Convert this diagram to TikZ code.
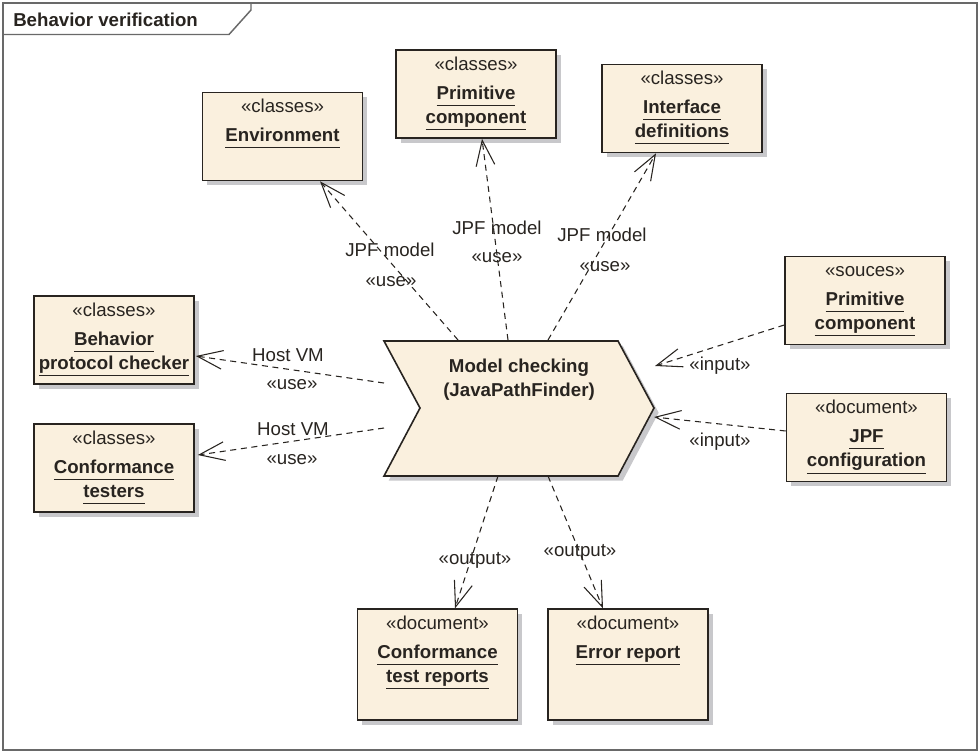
\documentclass[tikz,border=0pt]{standalone}
\usepackage{fontspec}
\setmainfont{Liberation Sans}
\usetikzlibrary{arrows.meta}
\usetikzlibrary{shadows}
\usetikzlibrary{calc}
\definecolor{boxfill}{RGB}{250,240,222}
\definecolor{boxline}{RGB}{40,36,32}
\definecolor{shade}{RGB}{200,200,203}
\definecolor{framegray}{RGB}{105,105,105}
\newcommand{\ul}[1]{\underline{#1\vphantom{p}}}
\newcommand{\boxtext}[3][66pt]{\parbox[c][#1][t]{120pt}{\centering\vspace*{2.5pt}\strut«#2»\\[4pt]\bfseries #3}}

\begin{document}
\begin{tikzpicture}[x=0.75pt,y=-0.75pt,
	every node/.style={font=\fontsize{14}{18}\selectfont, text=boxline},
	box/.style={draw=boxline, line width=1.2pt, fill=boxfill, inner sep=0pt,
		drop shadow={shadow xshift=3.5pt, shadow yshift=-3.5pt, fill=shade, opacity=1}},
	usedep/.style={draw=boxline, line width=0.8pt, dash pattern=on 4.5pt off 3.5pt,
		-{Straight Barb[length=19pt,width=14pt,line width=0.8pt]}}]
	\useasboundingbox (0,0) rectangle (980,753);
	% frame
	\draw[framegray, line width=1.1pt] (3,3) rectangle (977,750);
	\draw[framegray, line width=1.1pt] (3,34.5) -- (229,34.5) -- (251,10) -- (251,3);
	\node[anchor=west, inner sep=0pt, font=\fontsize{14}{18}\selectfont\bfseries] (title) at (13,20) {Behavior verification};

	% the action
	\path[draw=boxline, line width=1.2pt, fill=boxfill,
		drop shadow={shadow xshift=3.5pt, shadow yshift=-3.5pt, fill=shade, opacity=1}]
		(384,341) -- (618,341) -- (654,408) -- (618,476) -- (384,476) -- (420,408) -- cycle;
	\node[align=center, font=\fontsize{14}{18}\selectfont\bfseries] (mc) at (519,380) {Model checking\\(JavaPathFinder)};
	\coordinate (mcW1) at (384,383);
	\coordinate (mcW2) at (384,428);
	\coordinate (mcN1) at (458,340);
	\coordinate (mcN2) at (508,340);
	\coordinate (mcN3) at (548,340);
	\coordinate (mcE1) at (655,366);
	\coordinate (mcE2) at (654,417);
	\coordinate (mcS1) at (498,476);
	\coordinate (mcS2) at (548,476);

	% artifacts
	\node[box] (env) at (282.5,136.5) {\boxtext{classes}{\ul{Environment}}};
	\node[box] (primT) at (476,94) {\boxtext{classes}{\ul{Primitive}\\\ul{component}}};
	\node[box] (intf) at (682,108.5) {\boxtext{classes}{\ul{Interface}\\\ul{definitions}}};
	\node[box] (bpc) at (114,340) {\boxtext{classes}{\ul{Behavior}\\\ul{protocol checker}}};
	\node[box] (ct) at (114,468) {\boxtext{classes}{\ul{Conformance}\\\ul{testers}}};
	\node[box] (primR) at (865,300.5) {\boxtext{souces}{\ul{Primitive}\\\ul{component}}};
	\node[box] (jpf) at (866.5,437.5) {\boxtext{document}{\ul{JPF}\\\ul{configuration}}};
	\node[box] (ctr) at (437.5,664.5) {\boxtext[83pt]{document}{\ul{Conformance}\\\ul{test reports}}};
	\node[box] (err) at (628,664.5) {\boxtext[83pt]{document}{\ul{Error report}}};

	% dependencies
	\draw[usedep] (mcN1) -- ($(env.south)+(37.5,0)$);
	\draw[usedep] (mcN2) -- ($(primT.south)+(6,0)$);
	\draw[usedep] (mcN3) -- ($(intf.south)+(-26,0)$);
	\draw[usedep] (mcW1) -- ($(bpc.east)+(1,16)$);
	\draw[usedep] (mcW2) -- ($(ct.east)+(3,-13)$);
	\draw[usedep] ($(primR.west)+(0,24.5)$) -- (mcE1);
	\draw[usedep] ($(jpf.west)+(0,-6.5)$) -- (mcE2);
	\draw[usedep] (mcS1) -- ($(ctr.north)+(17.5,0)$);
	\draw[usedep] (mcS2) -- ($(err.north)+(-25,0)$);

	\foreach \x/\y/\t/\n in {390/250/JPF model/jpfA, 391/282/«use»/useA,
		497/228/JPF model/jpfB, 497/258/«use»/useB,
		602/235/JPF model/jpfC, 605/267/«use»/useC,
		288/355/Host VM/hostA, 292/385/«use»/useD,
		293/429/Host VM/hostB, 292/460/«use»/useE,
		720/366/«input»/inA, 720/442/«input»/inB,
		475/560/«output»/outA, 580/552/«output»/outB} {
		\node (\n) at (\x,\y) {\t};
	}
\end{tikzpicture}
\end{document}
